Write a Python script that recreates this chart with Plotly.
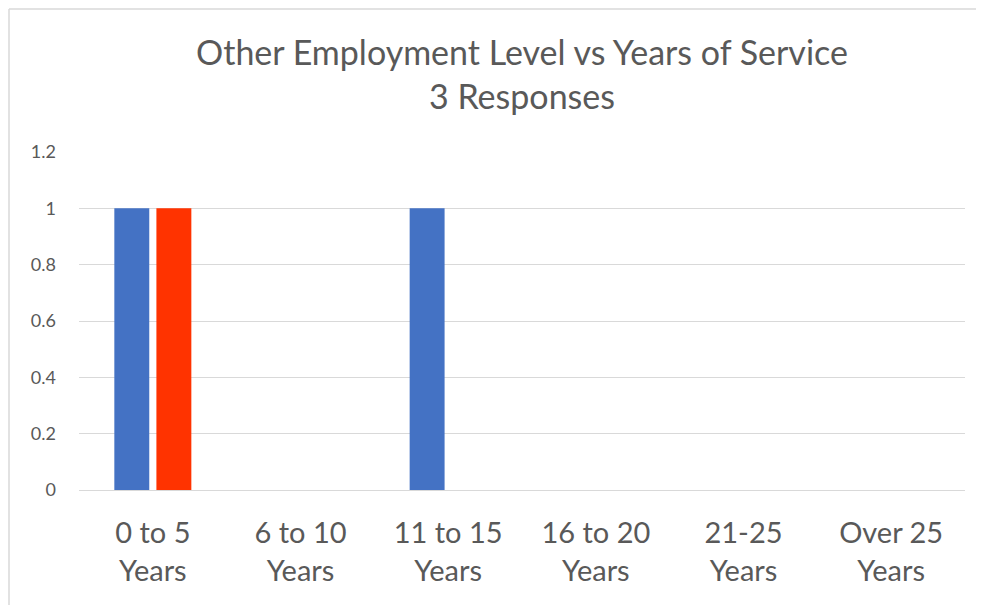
"""Other Employment Level vs Years of Service — clustered column chart."""

import plotly.graph_objects as go

categories = ["0 to 5<br>Years", "6 to 10<br>Years", "11 to 15<br>Years",
              "16 to 20<br>Years", "21-25<br>Years", "Over 25<br>Years"]
series_a = [1, 0, 1, 0, 0, 0]
series_b = [1, 0, 0, 0, 0, 0]
y_ticks = [0, 0.2, 0.4, 0.6, 0.8, 1, 1.2]
y_tick_labels = ["0", "0.2", "0.4", "0.6", "0.8", "1", "1.2"]

FONT = "Lato, 'Open Sans', sans-serif"
GREY = "#595959"

# page body keeps its default 8px margin, so the figure is sized to fit
W, H = 976, 597
L, R, T, B = 71, 19, 144, 115
plot_w = W - L - R
plot_h = H - T - B

fig = go.Figure()
fig.add_trace(go.Bar(x=categories, y=series_a, name="Series 1",
                     marker=dict(color="#4472C4", line=dict(width=0))))
fig.add_trace(go.Bar(x=categories, y=series_b, name="Series 2",
                     marker=dict(color="#FF3300", line=dict(width=0))))

fig.update_layout(
    width=W,
    height=H,
    paper_bgcolor="white",
    plot_bgcolor="white",
    showlegend=False,
    barmode="group",
    bargap=0.43,
    bargroupgap=0.17,
    margin=dict(l=L, r=R, t=T, b=B),
    font=dict(family=FONT, color=GREY),
    title=dict(
        text="Other Employment Level vs Years of Service<br>3 Responses",
        x=0.5, xref="paper", xanchor="center",
        y=1 - 56.5 / H, yanchor="middle",
        font=dict(family=FONT, size=34, color=GREY),
    ),
    xaxis=dict(
        showgrid=False,
        showline=True, linecolor="#D9D9D9", linewidth=1,
        ticks="", tickfont=dict(size=29, color=GREY),
        ticklabelstandoff=17,
    ),
    yaxis=dict(
        range=[0, 1.2],
        tickvals=y_ticks, ticktext=y_tick_labels,
        showgrid=True, gridcolor="#D9D9D9", gridwidth=1,
        zeroline=False, showline=False, ticks="",
        tickfont=dict(size=18, color=GREY),
        ticklabelstandoff=22,
    ),
)

# outer chart frame: only its top and left edges fall inside the picture
fig.add_shape(type="line", xref="paper", yref="paper",
              x0=(1 - L) / plot_w, x1=(1 - L) / plot_w,
              y0=-B / plot_h - 0.1, y1=1 + (T - 1) / plot_h,
              line=dict(color="#D9D9D9", width=1.5), layer="below")
fig.add_shape(type="line", xref="paper", yref="paper",
              x0=(1 - L) / plot_w, x1=1 + R / plot_w + 0.1,
              y0=1 + (T - 1) / plot_h, y1=1 + (T - 1) / plot_h,
              line=dict(color="#D9D9D9", width=1.5), layer="below")

fig.write_html("out.html")
